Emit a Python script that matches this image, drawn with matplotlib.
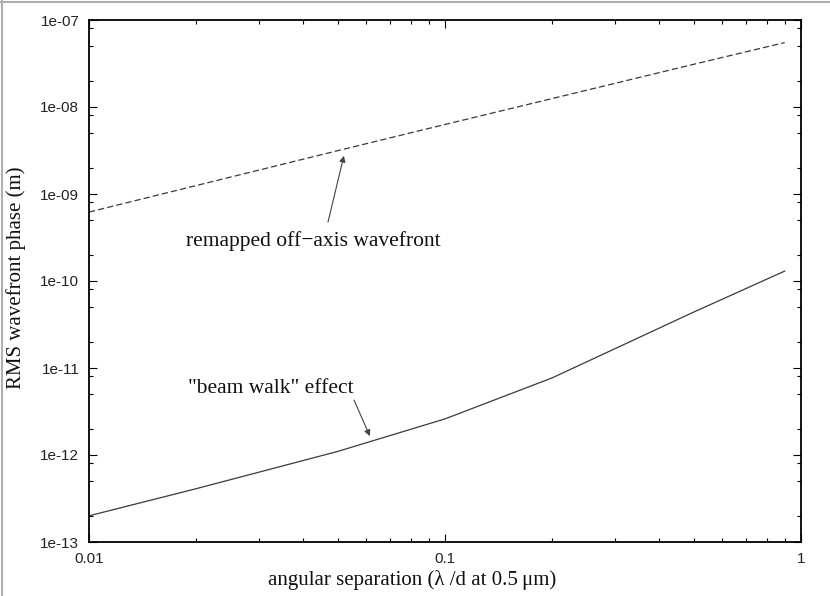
import matplotlib
matplotlib.use("Agg")
import matplotlib.pyplot as plt
from matplotlib.ticker import FixedLocator, NullFormatter, FixedFormatter
from matplotlib.lines import Line2D

# ---- data ----
sep = [0.01, 0.02, 0.05, 0.1, 0.2, 0.5, 0.9]
remapped = [6.2e-10, 1.25e-9, 3.15e-9, 6.3e-9, 1.25e-8, 3.1e-8, 5.5e-8]
beamwalk = [2.0e-13, 4.1e-13, 1.1e-12, 2.6e-12, 7.7e-12, 4.4e-11, 1.3e-10]

xticks = [0.01, 0.1, 1]
xticklabels = ["0.01", "0.1", "1"]
yticks = [1e-13, 1e-12, 1e-11, 1e-10, 1e-9, 1e-8, 1e-7]
yticklabels = ["1e-13", "1e-12", "1e-11", "1e-10", "1e-09", "1e-08", "1e-07"]

serif = ["Liberation Serif", "DejaVu Serif"]
sans = ["Liberation Sans", "DejaVu Sans"]

fig = plt.figure(figsize=(8.3, 5.96), dpi=100)
ax = fig.add_axes([89/830, 1-542/596, (801-89)/830, (542-20)/596])

line_col = "#3a3a3a"
ax.plot(sep, remapped, color=line_col, lw=0.9, dashes=(5, 2.5))
ax.plot(sep, beamwalk, color=line_col, lw=0.9)

ax.set_xscale("log")
ax.set_yscale("log")
ax.set_xlim(0.01, 1)
ax.set_ylim(1e-13, 1e-7)

ax.xaxis.set_major_locator(FixedLocator(xticks))
ax.xaxis.set_major_formatter(FixedFormatter(xticklabels))
xminor = [m * 10.0**e for e in (-2, -1) for m in range(2, 10)]
ax.xaxis.set_minor_locator(FixedLocator(xminor))
ax.xaxis.set_minor_formatter(NullFormatter())

ax.yaxis.set_major_locator(FixedLocator(yticks))
ax.yaxis.set_major_formatter(FixedFormatter(yticklabels))
yminor = [m * 10.0**e for e in range(-13, -7) for m in (2, 5, 8)]
ax.yaxis.set_minor_locator(FixedLocator(yminor))
ax.yaxis.set_minor_formatter(NullFormatter())

ax.tick_params(which="both", direction="in", top=True, right=True, width=0.8, colors="black")
ax.tick_params(which="major", length=6)
ax.tick_params(which="minor", length=3)
ax.tick_params(axis="x", which="major", pad=7)
ax.tick_params(axis="y", which="major", pad=7)
for lab in ax.get_xticklabels() + ax.get_yticklabels():
    lab.set_family(sans)
    lab.set_fontsize(11)
    lab.set_color("#222222")

for s in ax.spines.values():
    s.set_linewidth(1.3)
    s.set_color("black")

# axis labels
fig.text(412/830, 1-580/596, "angular separation (λ /d at 0.5\u2009μm)",
         family=serif, fontsize=15, ha="center", va="center", color="#111111")
fig.text(16/830, 1-278/596, "RMS wavefront phase (m)", family=serif, fontsize=15,
         rotation=90, ha="center", va="center", color="#111111")

# annotations
ax.text(0.315, 0.577, "remapped off\u2212axis wavefront", transform=ax.transAxes,
        family=serif, fontsize=15.5, ha="center", va="center", color="#111111")
ax.annotate("", xy=(0.052, 2.75e-9), xycoords="data",
            xytext=(0.3357, 0.613), textcoords="axes fraction",
            arrowprops=dict(arrowstyle="-|>", color="#444444", lw=0.8,
                            mutation_scale=9, shrinkA=0, shrinkB=0))

ax.text(0.2556, 0.295, "\"beam walk\" effect", transform=ax.transAxes,
        family=serif, fontsize=15.5, ha="center", va="center", color="#111111")
ax.annotate("", xy=(0.0615, 1.65e-12), xycoords="data",
            xytext=(0.3722, 0.272), textcoords="axes fraction",
            arrowprops=dict(arrowstyle="-|>", color="#444444", lw=0.8,
                            mutation_scale=9, shrinkA=0, shrinkB=0))

# light frame at the image edges
fig.add_artist(Line2D([0, 1], [1-1.5/596, 1-1.5/596], transform=fig.transFigure, color="#b0b0b0", lw=1.5))
fig.add_artist(Line2D([2/830, 2/830], [0, 1], transform=fig.transFigure, color="#b0b0b0", lw=1.5))

fig.savefig("out.png", dpi=100)
